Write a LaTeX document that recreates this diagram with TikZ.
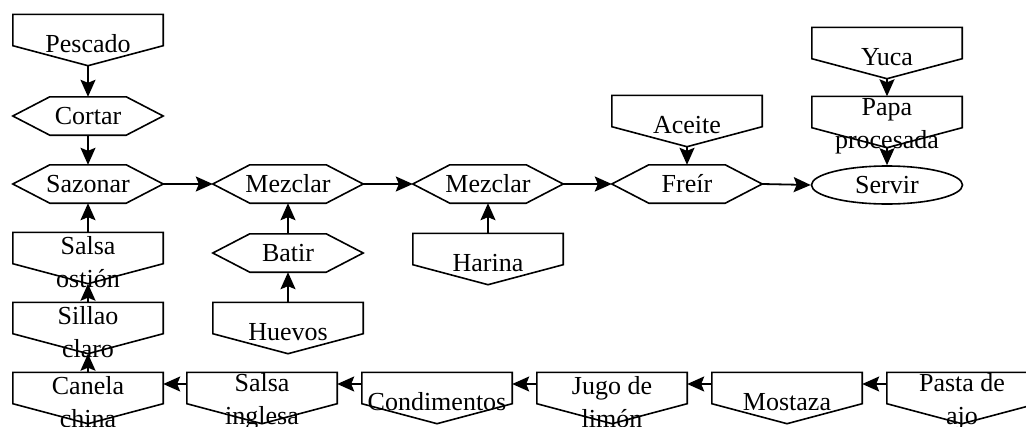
\documentclass[tikz,border=0pt]{standalone}
\usepackage{fontspec}
\setmainfont{Liberation Serif}
\usetikzlibrary{arrows.meta,shapes.geometric}

% input box: rectangle with a pointed bottom, text set slightly low
\newcommand{\inbox}[3]{%
  \node[inshape] (#1) at (#2) {};
  \draw[outline] (#1.north west) -- (#1.north east) -- ([yshift=20pt]#1.south east)
    -- (#1.south) -- ([yshift=20pt]#1.south west) -- cycle;
  \node[txt] (#1-text) at ([yshift=-4pt]#1.center) {#3};}
% process step: elongated hexagon
\newcommand{\procbox}[3]{%
  \node[procshape] (#1) at (#2) {#3};
  \draw[outline] (#1.west) -- ([xshift=37pt]#1.north west) -- ([xshift=-37pt]#1.north east)
    -- (#1.east) -- ([xshift=-37pt]#1.south east) -- ([xshift=37pt]#1.south west) -- cycle;}

\tikzset{
  outline/.style={line width=1.6pt, line join=miter},
  txt/.style={inner sep=0pt, align=center, font=\fontsize{26pt}{33pt}\selectfont},
  inshape/.style={rectangle, minimum width=150pt, minimum height=51pt, inner sep=0pt},
  procshape/.style={rectangle, minimum width=150pt, minimum height=38pt, inner sep=0pt,
    align=center, font=\fontsize{26pt}{33pt}\selectfont},
  endshape/.style={ellipse, draw, line width=1.6pt, minimum width=151pt, minimum height=38pt,
    inner sep=0pt, font=\fontsize{26pt}{33pt}\selectfont},
  flow/.style={line width=1.8pt, -{Stealth[length=17pt,width=15pt,inset=3pt]}}
}

\begin{document}
\begin{tikzpicture}[x=1pt,y=-1pt]
\useasboundingbox (0,0) rectangle (1026,426);
\fill[white] (0,0) rectangle (1026,426);
\clip (0,0) rectangle (1026,426);

% left column
\inbox{pescado}{88,40}{Pescado}
\procbox{cortar}{88,116}{Cortar}
\procbox{sazonar}{88,184}{Sazonar}
\inbox{ostion}{88,258}{Salsa\\ostión}
\inbox{sillao}{88,328}{Sillao\\claro}

% main line
\procbox{mezclaA}{288,184}{Mezclar}
\procbox{batir}{288,253}{Batir}
\inbox{huevos}{288,328}{Huevos}
\procbox{mezclaB}{488,184}{Mezclar}
\inbox{harina}{488,259}{Harina}
\procbox{freir}{687,184}{Freír}
\inbox{aceite}{687,121}{Aceite}
\node[endshape] (servir) at (887,185) {Servir};
\inbox{yuca}{887,53}{Yuca}
\inbox{papa}{887,122}{Papa\\procesada}

% bottom row
\inbox{canela}{88,398}{Canela\\china}
\inbox{inglesa}{262,398}{Salsa\\inglesa}
\inbox{condim}{437,398}{Condimentos}
\inbox{jugo}{612,398}{Jugo de\\limón}
\inbox{mostaza}{787,398}{Mostaza}
\inbox{pasta}{962,398}{Pasta de\\ajo}

% connectors
\draw[flow] (pescado.south) -- (cortar.north);
\draw[flow] (cortar.south) -- (sazonar.north);
\draw[flow] (ostion.north) -- (sazonar.south);
\draw[flow] (sillao.north) -- (ostion.south);
\draw[flow] (canela.north) -- (sillao.south);
\draw[flow] (sazonar.east) -- (mezclaA.west);
\draw[flow] (batir.north) -- (mezclaA.south);
\draw[flow] (huevos.north) -- (batir.south);
\draw[flow] (mezclaA.east) -- (mezclaB.west);
\draw[flow] (harina.north) -- (mezclaB.south);
\draw[flow] (mezclaB.east) -- (freir.west);
\draw[flow] (aceite.south) -- (freir.north);
\draw[flow] (freir.east) -- (servir.west);
\draw[flow] (yuca.south) -- (papa.north);
\draw[flow] (papa.south) -- (servir.north);
\draw[flow] ([yshift=14pt]pasta.west) -- ([yshift=14pt]mostaza.east);
\draw[flow] ([yshift=14pt]mostaza.west) -- ([yshift=14pt]jugo.east);
\draw[flow] ([yshift=14pt]jugo.west) -- ([yshift=14pt]condim.east);
\draw[flow] ([yshift=14pt]condim.west) -- ([yshift=14pt]inglesa.east);
\draw[flow] ([yshift=14pt]inglesa.west) -- ([yshift=14pt]canela.east);
\end{tikzpicture}
\end{document}
